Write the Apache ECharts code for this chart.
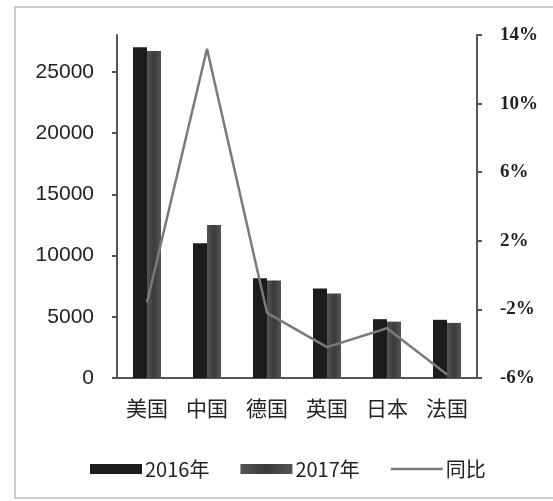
<!DOCTYPE html>
<html>
<head>
<meta charset="utf-8">
<script src="https://cdn.jsdelivr.net/npm/echarts@6/dist/echarts.min.js"></script>
<style>html,body{margin:0;padding:0;background:#fff;}#c{width:553px;height:501px;}</style>
</head>
<body>
<div id="c"></div>
<script>
const categories = ['美国', '中国', '德国', '英国', '日本', '法国'];
const values2016 = [27000, 11000, 8150, 7300, 4800, 4750];
const values2017 = [26700, 12500, 7950, 6900, 4600, 4500];
const yoy = [-1.6, 13.2, -2.2, -4.2, -3.1, -5.8];
const leftTicks = [0, 5000, 10000, 15000, 20000, 25000];
const rightTicks = [-6, -2, 2, 6, 10, 14];

const chart = echarts.init(document.getElementById('c'));
const axisColor = '#555';
const txt = '#222';
chart.setOption({
  animation: false,
  backgroundColor: '#fff',
  graphic: [{
    type: 'polyline',
    shape: { points: [[560, 7], [15, 7], [15, 498], [560, 498]] },
    style: { stroke: '#bbb', lineWidth: 1.5, fill: null },
    silent: true
  }],
  grid: { left: 117, right: 76, top: 35, bottom: 123 },
  legend: {
    left: 85, top: 454,
    itemWidth: 52, itemHeight: 10, itemGap: 31,
    textStyle: { fontSize: 20, color: txt, fontFamily: 'Noto Sans CJK SC', padding: [0, 0, 0, -2] },
    data: [
      { name: '2016年', icon: 'rect' },
      { name: '2017年', icon: 'rect' },
      { name: '同比', icon: 'path://M0,0H50V2.5H0Z' }
    ]
  },
  xAxis: {
    type: 'category', data: categories,
    axisLine: { lineStyle: { color: axisColor, width: 2 } },
    axisTick: { show: false },
    axisLabel: { color: txt, fontSize: 21, margin: 20, fontFamily: 'Noto Sans CJK SC' }
  },
  yAxis: [{
    type: 'value', min: 0, max: 28000,
    axisLine: { show: true, lineStyle: { color: axisColor, width: 2 } },
    axisTick: { show: true, length: 5, customValues: leftTicks, lineStyle: { color: axisColor, width: 2 } },
    axisLabel: { customValues: leftTicks, formatter: v => String(v), color: txt, fontSize: 21, margin: 23, fontFamily: 'Liberation Sans' },
    splitLine: { show: false }
  }, {
    type: 'value', min: -6, max: 14, position: 'right',
    axisLine: { show: true, lineStyle: { color: axisColor, width: 2 } },
    axisTick: { show: true, length: 5, customValues: rightTicks, lineStyle: { color: axisColor, width: 2 } },
    axisLabel: { customValues: rightTicks, formatter: v => v + '%', color: txt, fontSize: 19, margin: 23, fontFamily: 'Liberation Serif', fontWeight: 'bold' },
    splitLine: { show: false }
  }],
  series: [{
    name: '2016年', type: 'bar', data: values2016, barWidth: 14, barGap: '0%',
    itemStyle: { color: '#1c1c1c' }
  }, {
    name: '2017年', type: 'bar', data: values2017, barWidth: 14,
    itemStyle: { color: new echarts.graphic.LinearGradient(0, 0, 1, 0, [
      { offset: 0, color: '#555' }, { offset: 0.5, color: '#3a3a3a' }, { offset: 1, color: '#555' }]) }
  }, {
    name: '同比', type: 'line', yAxisIndex: 1, data: yoy, symbol: 'none',
    lineStyle: { color: '#7a7a7a', width: 2.5 }, itemStyle: { color: '#7a7a7a' }
  }]
});
</script>
</body>
</html>
